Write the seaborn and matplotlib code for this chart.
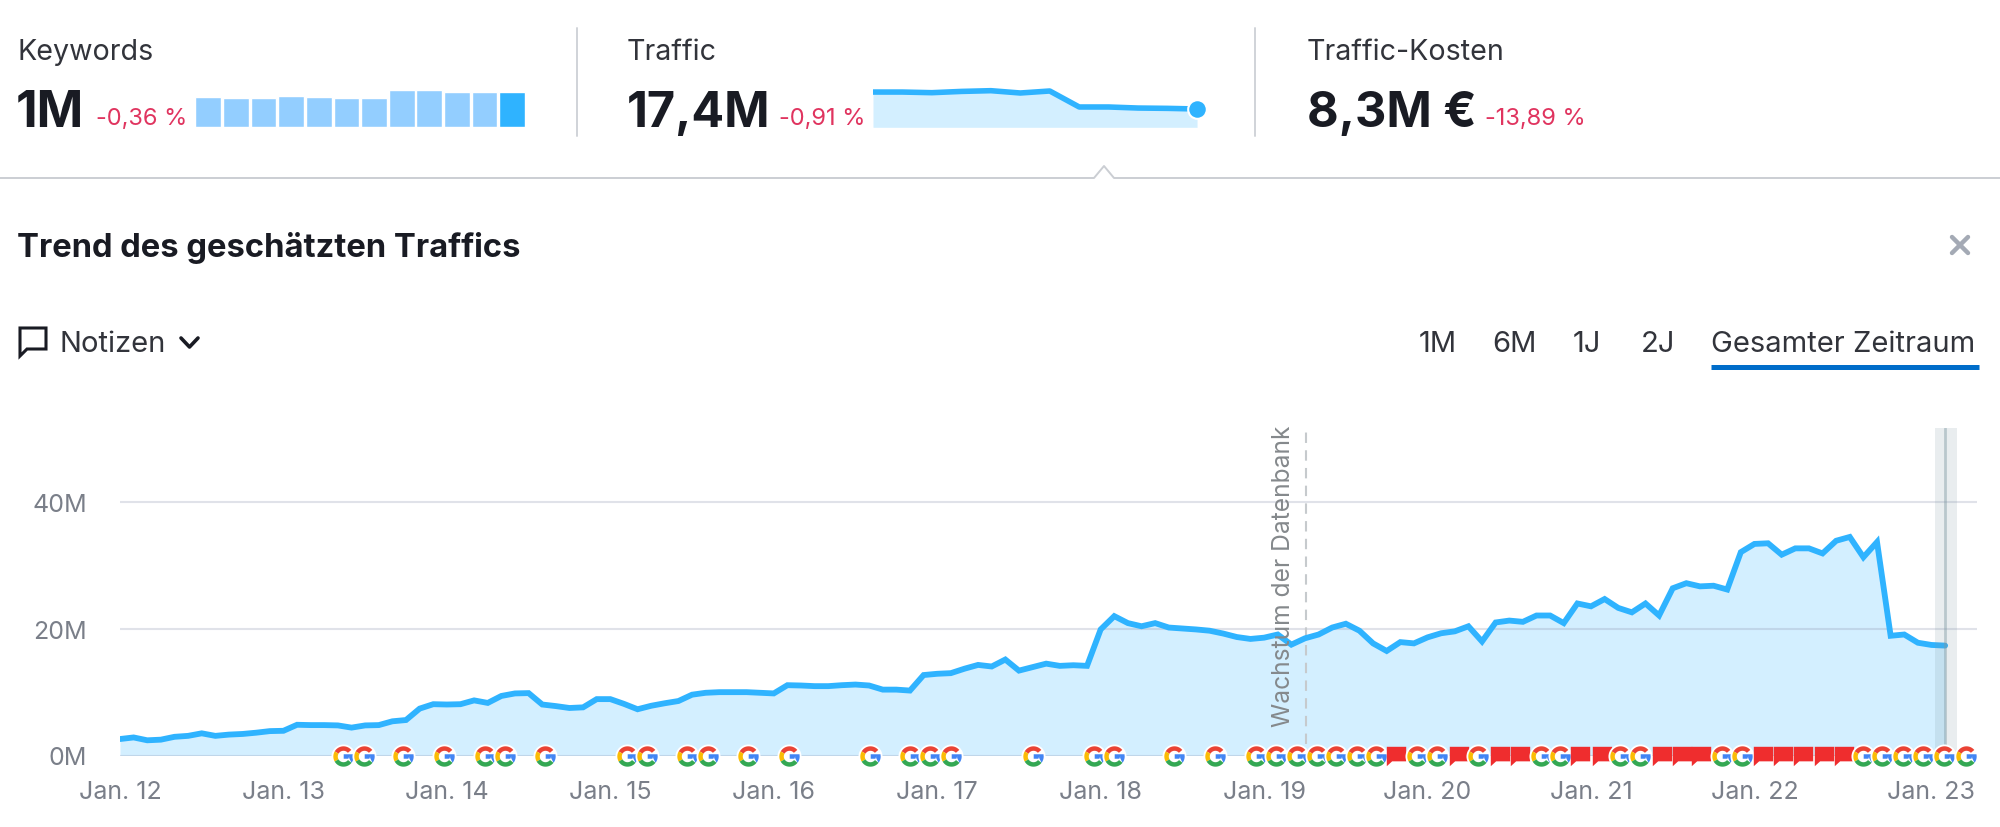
import numpy as np
import pandas as pd
import seaborn as sns
import matplotlib.pyplot as plt
from matplotlib.path import Path
from matplotlib.patches import Polygon
from matplotlib.transforms import ScaledTranslation

# traffic per month in millions, starting Jan. 12
traffic = [2.6, 2.85, 2.4, 2.5, 2.95, 3.1, 3.5, 3.1, 3.3, 3.4, 3.6, 3.85,
           3.9, 4.85, 4.8, 4.8, 4.75, 4.4, 4.75, 4.8, 5.4, 5.6, 7.4, 8.1,
           8.05, 8.1, 8.7, 8.3, 9.4, 9.8, 9.85, 8.05, 7.8, 7.5, 7.6, 8.9,
           8.9, 8.15, 7.3, 7.85, 8.25, 8.6, 9.6, 9.9, 10, 10, 10, 9.9,
           9.8, 11.1, 11.05, 10.95, 10.95, 11.1, 11.2, 11.05, 10.4, 10.4, 10.25, 12.7,
           12.9, 13, 13.7, 14.3, 14.05, 15.15, 13.4, 13.95, 14.5, 14.15, 14.25, 14.15,
           19.9, 22, 20.9, 20.4, 20.9, 20.2, 20.05, 19.9, 19.7, 19.25, 18.7, 18.4,
           18.6, 19.1, 17.5, 18.5, 19.1, 20.2, 20.8, 19.7, 17.7, 16.5, 17.9, 17.7,
           18.65, 19.3, 19.6, 20.4, 18, 21, 21.3, 21.1, 22.1, 22.1, 20.9, 24,
           23.55, 24.7, 23.3, 22.6, 24, 22.1, 26.4, 27.2, 26.7, 26.8, 26.2, 32.1,
           33.4, 33.5, 31.7, 32.7, 32.7, 31.9, 33.9, 34.5, 31.3, 33.7, 18.9, 19.1,
           17.8, 17.45, 17.35]

year_labels = ["Jan. 12", "Jan. 13", "Jan. 14", "Jan. 15", "Jan. 16", "Jan. 17",
               "Jan. 18", "Jan. 19", "Jan. 20", "Jan. 21", "Jan. 22", "Jan. 23"]
year_months = [0, 12, 24, 36, 48, 60, 72, 84, 96, 108, 120, 132]
y_ticks = [0, 20, 40]
y_labels = ["0M", "20M", "40M"]

# event positions, months since Jan. 12
google_events = [16.35, 17.9, 20.8, 23.8, 26.8, 28.3, 31.2, 37.25, 38.7, 41.6, 43.15,
                 46.1, 49.1, 55.1, 58, 59.5, 61, 67, 71.5, 73, 77.4, 80.4, 83.4, 84.9,
                 86.4, 87.9, 89.3, 90.85, 92.2, 95.25, 96.7, 99.7, 104.3, 105.7, 110.1,
                 111.6, 117.6, 119.1, 128, 129.4, 130.9, 132.4, 133.9, 135.5]
flag_events = [93.7, 98.3, 101.3, 102.8, 107.2, 108.8, 113.2, 114.7, 116.1,
               120.6, 122.1, 123.6, 125.1, 126.6]
db_growth_month = 87.04
selected_month = 134

keyword_bars = [0.86, 0.84, 0.84, 0.88, 0.87, 0.84, 0.84, 1.07, 1.07, 1.02, 1.02, 1.0]
traffic_spark = [33.5, 33.5, 32.9, 34.1, 34.8, 32.6, 34.5, 19.3, 19.3, 18.3, 18, 17.4]

LINE = "#2FB3FF"
FILL = "#D3EFFF"
RED = "#E0345F"
DARK = "#191B23"
GREY = "#7A7F89"

sns.set_theme(style="white")
plt.rcParams["font.family"] = ["Inter", "DejaVu Sans"]

fig = plt.figure(figsize=(20, 8.28), dpi=100)


def px_axes(x0, y0, x1, y1):
    # axes from pixel box, y counted from the top
    return fig.add_axes([x0 / 2000, 1 - y1 / 828, (x1 - x0) / 2000, (y1 - y0) / 828])


def ring(t1, t2, bar=False):
    t = np.radians(np.linspace(t1, t2, 30))
    outer = np.c_[np.cos(t), np.sin(t)]
    inner = 0.56 * np.c_[np.cos(t[::-1]), np.sin(t[::-1])]
    pts = np.r_[outer, inner]
    if bar:
        pts = np.r_[outer, [[0.98, 0.22], [0.02, 0.22], [0.02, -0.22], [0.48, -0.22]], inner[:12]]
    return Path(np.r_[pts, pts[:1]], closed=True)


g_parts = [(ring(40, 150), "#EA4335"), (ring(150, 210), "#FBBC05"),
           (ring(210, 322), "#34A853"), (ring(-38, 2, bar=True), "#4285F4")]
flag_marker = Path([(-1, 1), (1, 1), (1, -0.5), (-0.45, -0.5), (-1, -1), (-1, 1)], closed=True)

# main chart
ax = px_axes(120, 429, 1977, 756.5)
months = np.arange(len(traffic))
df = pd.DataFrame({"month": months, "traffic": traffic})
ax.fill_between(months, traffic, 0, color=FILL, lw=0, zorder=1)
sns.lineplot(data=df, x="month", y="traffic", color=LINE, lw=4.2, ax=ax, zorder=3,
             solid_joinstyle="miter", errorbar=None)
ax.set_xlim(0, 136.34)
ax.set_ylim(0, 51.7)
ax.set_xlabel("")
ax.set_ylabel("")
ax.set_yticks(y_ticks, y_labels)
ax.set_xticks(year_months, year_labels)
ax.tick_params(axis="y", length=0, pad=24, labelsize=18, labelcolor=GREY)
ax.tick_params(axis="x", length=0, pad=18, labelsize=18, labelcolor=GREY)
for y in y_ticks:
    ax.axhline(y, color="#8E94B0", alpha=0.27, lw=1.5, zorder=2)
sns.despine(ax=ax, left=True, bottom=True)
shift = ScaledTranslation(9.5 / 72, 0, fig.dpi_scale_trans)
last = ax.get_xticklabels()[-1]
last.set_transform(last.get_transform() + shift)

# database growth note and selected month
ax.plot([db_growth_month, db_growth_month], [1.8, 51.7], color="#C6CACD", lw=1.5,
        ls=(0, (5, 3.5)), zorder=2)
ax.text(db_growth_month - 1.6, 4.6, "Wachstum der Datenbank", rotation=90, ha="center",
        va="bottom", color="#85898C", fontsize=17.7, zorder=4)
ax.axvspan(selected_month - 0.75, selected_month + 0.85, color="#7F99A3", alpha=0.17, lw=0, zorder=4)
ax.axvline(selected_month, color="#7F99A3", alpha=0.45, lw=2, zorder=4)

# google updates and red flags, later ones sit on top
z = 5
for month, kind in sorted([(m, "g") for m in google_events] + [(m, "f") for m in flag_events]):
    if kind == "g":
        ax.scatter([month], [0], marker="o", s=300, color="white", lw=0, zorder=z, clip_on=False)
        for path, col in g_parts:
            ax.scatter([month], [0], marker=path, s=215, color=col, lw=0, zorder=z, clip_on=False)
    else:
        ax.scatter([month], [0], marker=flag_marker, s=195, color="#EF2D2E", lw=0, zorder=z, clip_on=False)
    z += 1

# keyword bars
ax_bars = px_axes(194.5, 88, 526, 128)
sns.barplot(x=list(range(len(keyword_bars))), y=keyword_bars, hue=list(range(len(keyword_bars))),
            palette=["#93CEFF"] * 11 + [LINE], legend=False, width=0.93, saturation=1, ax=ax_bars)
ax_bars.set_ylim(0, 1.153)
ax_bars.set_xlim(-0.5, 11.5)
ax_bars.axis("off")

# traffic sparkline
ax_spark = px_axes(873, 88, 1205, 128.3)
x_spark = np.arange(len(traffic_spark))
ax_spark.fill_between(x_spark, traffic_spark, 0, color=FILL, lw=0)
sns.lineplot(x=x_spark, y=traffic_spark, color=LINE, lw=4, ax=ax_spark, errorbar=None)
ax_spark.scatter([x_spark[-1]], [traffic_spark[-1]], s=180, color=LINE, edgecolor="white",
                 linewidth=1.5, zorder=5, clip_on=False)
ax_spark.set_xlim(0, 11.27)
ax_spark.set_ylim(0, 38.3)
ax_spark.axis("off")

# page furniture drawn in pixel coordinates
ui = fig.add_axes([0, 0, 1, 1], zorder=-1)
ui.set_xlim(0, 2000)
ui.set_ylim(828, 0)
ui.axis("off")

ui.text(17, 52.5, "Keywords", fontsize=20.6, color="#32343B", va="center")
ui.text(627, 52.5, "Traffic", fontsize=20.6, color="#32343B", va="center")
ui.text(1307, 52.5, "Traffic-Kosten", fontsize=20.6, color="#32343B", va="center")
ui.text(16, 113.5, "1M", fontsize=36, color=DARK, va="center", fontweight="bold")
ui.text(627, 113.5, "17,4M", fontsize=35, color=DARK, va="center", fontweight="bold")
ui.text(1307, 113.5, "8,3M €", fontsize=35, color=DARK, va="center", fontweight="bold")
ui.text(96, 119, "-0,36 %", fontsize=17, color=RED, va="center")
ui.text(779, 119, "-0,91 %", fontsize=17, color=RED, va="center")
ui.text(1485, 119, "-13,89 %", fontsize=17, color=RED, va="center")

for x in (576.5, 1255):
    ui.plot([x, x], [29, 137], color="#D0D3D8", lw=1.4)
ui.plot([0, 1094, 1104, 1114, 2000], [179, 179, 167, 179, 179], color="#CBCED3", lw=1.4)

ui.text(17, 248.5, "Trend des geschätzten Traffics", fontsize=23.6, color=DARK, va="center", fontweight="bold")
ui.plot([1952, 1968], [238, 254], color="#A4AAB5", lw=3.2)
ui.plot([1952, 1968], [254, 238], color="#A4AAB5", lw=3.2)

# notes button
ui.add_patch(Polygon([(20, 329), (46, 329), (46, 350), (27, 350), (20, 357)], closed=True,
                     fill=False, ec=DARK, lw=2.2))
ui.text(59, 344.5, "Notizen", fontsize=21, color="#32343B", va="center")
ui.plot([181, 189.5, 198], [339, 348, 339], color=DARK, lw=2.6)

for label, x in [("1M", 1437.5), ("6M", 1514), ("1J", 1587), ("2J", 1658)]:
    ui.text(x, 344.5, label, fontsize=21, color="#32343B", va="center", ha="center")
ui.text(1711, 344.5, "Gesamter Zeitraum", fontsize=21, color="#32343B", va="center")
ui.plot([1711, 1979], [368, 368], color="#006DCA", lw=3.6, solid_capstyle="butt")

fig.savefig("out.png", dpi=100)
